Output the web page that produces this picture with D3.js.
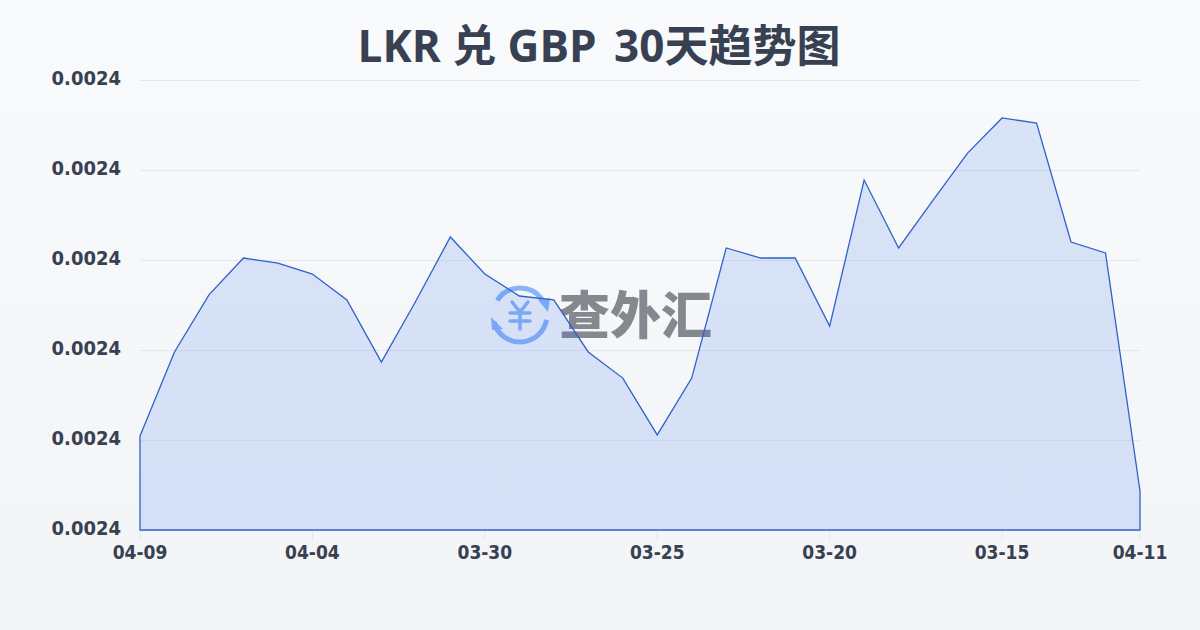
<!DOCTYPE html>
<html>
<head>
<meta charset="utf-8">
<script src="https://cdn.jsdelivr.net/npm/d3@7"></script>
<style>
  html, body { margin: 0; padding: 0; }
  body { width: 1200px; height: 630px; overflow: hidden; }
  text.cond { font-stretch: condensed; }
</style>
</head>
<body>
<div id="chart"></div>
<script>
const dates = ["04-09","04-08","04-07","04-06","04-05","04-04","04-03","04-02","04-01","03-31",
  "03-30","03-29","03-28","03-27","03-26","03-25","03-24","03-23","03-22","03-21",
  "03-20","03-19","03-18","03-17","03-16","03-15","03-14","03-13","03-12","04-11"];
const rates = [0.00238522,0.00238989,0.00239306,0.00239511,0.00239483,0.00239422,0.00239278,0.00238933,0.00239272,0.00239628,
  0.00239422,0.00239300,0.00239278,0.00238989,0.00238844,0.00238528,0.00238844,0.00239567,0.00239511,0.00239511,
  0.00239133,0.00239944,0.00239567,0.00239833,0.00240094,0.00240289,0.00240261,0.00239600,0.00239539,0.00238217];
const xTicks = ["04-09","04-04","03-30","03-25","03-20","03-15","04-11"];
const yTicks = [0.00238,0.002385,0.00239,0.002395,0.0024,0.002405];

const width = 1200;
const height = 630;
const margin = { top: 80, right: 60, bottom: 100, left: 140 };
const font = "'DejaVu Sans', 'Noto Sans CJK SC', sans-serif";

const svg = d3.select("#chart")
  .append("svg")
  .attr("width", width)
  .attr("height", height)
  .style("display", "block");

const defs = svg.append("defs");
const bg = defs.append("linearGradient").attr("id", "bg")
  .attr("x1", 0).attr("y1", 0).attr("x2", 0).attr("y2", 1);
bg.append("stop").attr("offset", "0%").attr("stop-color", "#f9fafb");
bg.append("stop").attr("offset", "100%").attr("stop-color", "#f3f4f6");

svg.append("rect").attr("width", width).attr("height", height).attr("fill", "url(#bg)");

const x = d3.scalePoint()
  .domain(d3.range(dates.length))
  .range([margin.left, width - margin.right]);

const y = d3.scaleLinear()
  .domain([yTicks[0], yTicks[yTicks.length - 1]])
  .range([height - margin.bottom, margin.top]);

// grid
svg.append("g")
  .selectAll("line")
  .data(yTicks)
  .join("line")
  .attr("x1", margin.left)
  .attr("x2", width - margin.right)
  .attr("y1", d => y(d) + 0.5)
  .attr("y2", d => y(d) + 0.5)
  .attr("stroke", "#e5e7eb")
  .attr("stroke-width", 1);

// x tick marks and labels
const xIdx = d => dates.indexOf(d);
svg.append("g")
  .selectAll("line")
  .data(xTicks)
  .join("line")
  .attr("x1", d => x(xIdx(d)))
  .attr("x2", d => x(xIdx(d)))
  .attr("y1", height - margin.bottom)
  .attr("y2", height - margin.bottom + 10)
  .attr("stroke", "#e5e7eb");

svg.append("g")
  .selectAll("text")
  .data(xTicks)
  .join("text")
  .attr("class", "cond")
  .attr("x", d => x(xIdx(d)))
  .attr("y", 559)
  .attr("text-anchor", "middle")
  .attr("font-family", font)
  .attr("font-weight", 700)
  .attr("font-size", 19)
  .attr("fill", "#374151")
  .text(d => d);

svg.append("g")
  .selectAll("text")
  .data(yTicks)
  .join("text")
  .attr("class", "cond")
  .attr("x", 121)
  .attr("y", d => y(d) - 2)
  .attr("dy", "0.35em")
  .attr("text-anchor", "end")
  .attr("font-family", font)
  .attr("font-weight", 700)
  .attr("font-size", 20)
  .attr("fill", "#374151")
  .text(d => d.toFixed(4));

// title
const title = svg.append("text")
  .attr("x", 599)
  .attr("y", 62)
  .attr("text-anchor", "middle")
  .attr("font-family", "'Open Sans', 'Noto Sans CJK SC', sans-serif")
  .attr("font-weight", 700)
  .attr("font-size", 44)
  .attr("fill", "#374151");
title.append("tspan").text("LKR 兑 GBP ");
title.append("tspan").attr("dx", 6).text("30天趋势图");

// watermark
const logoBlue = "#8ab4f8";
const mark = svg.append("g").attr("transform", "translate(520,315)");
mark.append("g")
  .attr("fill", "none")
  .attr("stroke", logoBlue)
  .attr("stroke-width", 5)
  .attr("stroke-linecap", "round")
  .selectAll("path")
  .data([[-1.0, 0.95], [1.75, 4.45]])
  .join("path")
  .attr("d", d => d3.arc().innerRadius(27).outerRadius(27).startAngle(d[0]).endAngle(d[1])());
mark.append("g")
  .attr("fill", logoBlue)
  .selectAll("path")
  .data(["M18,-15L30,-17L28,-3Z", "M-29,2L-17,14L-28,15Z"])
  .join("path")
  .attr("d", d => d);
mark.append("path")
  .attr("d", "M-8,-13L0,-3L8,-13M-10,-2H10M-10,6H10M0,-3V14")
  .attr("fill", "none")
  .attr("stroke", logoBlue)
  .attr("stroke-width", 3.5)
  .attr("stroke-linecap", "round");
svg.append("text")
  .attr("x", 559)
  .attr("y", 334)
  .attr("textLength", 153)
  .attr("font-family", "'Noto Sans CJK SC', sans-serif")
  .attr("font-weight", 900)
  .attr("font-size", 51)
  .attr("fill", "#85898f")
  .text("查外汇");

// area and line, on top of the watermark
const area = d3.area()
  .x((d, i) => x(i))
  .y0(y(yTicks[0]))
  .y1(d => y(d));

svg.append("path")
  .datum(rates)
  .attr("d", area)
  .attr("fill", "#2563eb")
  .attr("fill-opacity", 0.15)
  .attr("stroke", "#2f62c8")
  .attr("stroke-width", 1.3);
</script>
</body>
</html>
